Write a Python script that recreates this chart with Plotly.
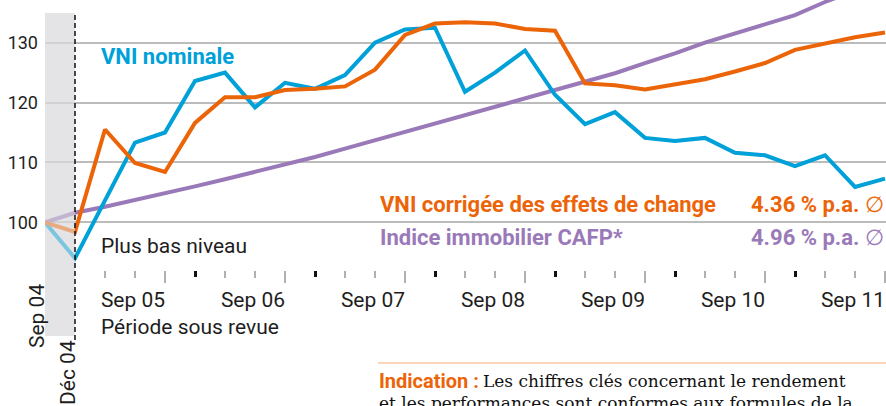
import plotly.graph_objects as go

# ---------------- data ----------------
quarters = ["Sep 04", "Déc 04",
            "Mar 05", "Jun 05", "Sep 05", "Déc 05",
            "Mar 06", "Jun 06", "Sep 06", "Déc 06",
            "Mar 07", "Jun 07", "Sep 07", "Déc 07",
            "Mar 08", "Jun 08", "Sep 08", "Déc 08",
            "Mar 09", "Jun 09", "Sep 09", "Déc 09",
            "Mar 10", "Jun 10", "Sep 10", "Déc 10",
            "Mar 11", "Jun 11", "Sep 11"]

vni_nominale = [100.0, 94.0, None, 113.3, 115.0, 123.6, 125.0, 119.2, 123.3, 122.3,
                124.6, 130.0, 132.2, 132.5, 121.8, 125.0, 128.7, 121.3, 116.4, 118.4,
                114.1, 113.6, 114.1, 111.6, 111.2, 109.4, 111.2, 105.9, 107.3]

vni_corrigee = [100.0, 98.4, 115.5, 109.9, 108.4, 116.6, 120.9, 120.9, 122.1, 122.3,
                122.7, 125.5, 131.3, 133.2, 133.4, 133.2, 132.3, 132.0, 123.2, 122.9,
                122.2, 123.1, 123.9, 125.2, 126.6, 128.8, 129.9, 130.9, 131.7]

indice_cafp = [100.0, 101.6, 102.6, 103.7, 104.8, 106.0, 107.2, 108.4, 109.7, 110.9,
               112.3, 113.7, 115.1, 116.5, 117.9, 119.3, 120.7, 122.0, 123.4, 124.9,
               126.6, 128.2, 130.0, 131.5, 133.0, 134.6, 136.8, 138.8, 140.6]

y_ticks = [100, 110, 120, 130]

label_nominale = "VNI nominale"
label_corrigee = "VNI corrigée des effets de change"
label_cafp = "Indice immobilier CAFP*"
perf_corrigee = "4.36 % p.a."
perf_cafp = "4.96 % p.a."

# ---------------- styling ----------------
W, H = 886, 406
ML = 45
PW = W - ML
BLUE = "#00a0d8"
ORANGE = "#ec6408"
PURPLE = "#9a79b9"
GRID = "#bcbcbc"
TXT = "#1e1e1e"
FONT = "Roboto"

x = list(range(len(quarters)))
sep_idx = [i for i, q in enumerate(quarters) if q.startswith("Sep") and i > 0]
dec_idx = [i for i, q in enumerate(quarters) if q.startswith("Déc") and i > 1]
minor_idx = [i for i in x if i > 1 and i not in sep_idx and i not in dec_idx]


def px(p):
    return (p - ML) / PW


def py(p):
    return 1 - p / H


fig = go.Figure()
fig.add_trace(go.Scatter(x=x, y=indice_cafp, mode="lines",
                         line=dict(color=PURPLE, width=4), connectgaps=True))
fig.add_trace(go.Scatter(x=x, y=vni_nominale, mode="lines",
                         line=dict(color=BLUE, width=4), connectgaps=True))
fig.add_trace(go.Scatter(x=x, y=vni_corrigee, mode="lines",
                         line=dict(color=ORANGE, width=4), connectgaps=True))
fig.add_trace(go.Scatter(x=[], y=[], xaxis="x2", showlegend=False))

xr = [0, PW / 30]
axis_pos = py(270)

fig.update_layout(
    width=W, height=H,
    margin=dict(l=ML, r=0, t=0, b=0),
    paper_bgcolor="white", plot_bgcolor="white",
    showlegend=False,
    xaxis=dict(
        range=xr, anchor="free", position=axis_pos,
        showgrid=False, zeroline=False, showline=False,
        tickmode="array", tickvals=sep_idx,
        ticktext=[quarters[i] for i in sep_idx],
        ticks="outside", ticklen=12, tickwidth=1.5, tickcolor="#b0b0b0",
        ticklabelshift=-32, ticklabelstandoff=-1,
        tickfont=dict(family=FONT, size=21, color=TXT),
        minor=dict(tickmode="array", tickvals=minor_idx, ticks="outside",
                   ticklen=7, tickwidth=1.5, tickcolor="#b0b0b0", showgrid=False),
    ),
    xaxis2=dict(
        range=xr, overlaying="x", anchor="free", position=axis_pos,
        showgrid=False, zeroline=False, showline=False,
        tickmode="array", tickvals=dec_idx, ticks="outside",
        ticklen=6, tickwidth=3, tickcolor="#111111", showticklabels=False,
    ),
    yaxis=dict(
        range=[100 - (H - 222.3) / 5.987, 130 + 42.7 / 5.987],
        tickmode="array", tickvals=y_ticks,
        showgrid=True, gridcolor=GRID, gridwidth=1.5,
        zeroline=False, showline=False, ticks="",
        ticklabelstandoff=6,
        tickfont=dict(family=FONT, size=18, color=TXT),
    ),
)

# shaded band (pre-period) and its overlay
fig.add_shape(type="rect", xref="x", yref="paper", x0=0, x1=1,
              y0=py(336), y1=py(13), fillcolor="#e4e4e6",
              line=dict(width=0), layer="below")
fig.add_shape(type="rect", xref="x", yref="paper", x0=0, x1=1,
              y0=py(336), y1=py(13), fillcolor="rgba(228,228,230,0.55)",
              line=dict(width=0), layer="above")
fig.add_shape(type="line", xref="x", yref="paper", x0=1, x1=1,
              y0=py(340), y1=py(13), line=dict(color="#111111", width=1.5, dash="5px,3px"),
              layer="above")
# separator line above the note
fig.add_shape(type="line", xref="paper", yref="paper", x0=px(378), x1=1,
              y0=py(363), y1=py(363), line=dict(color="#f8c7a4", width=1.5))


def ann(text, xp, yp, color, size=22, xanchor="left", angle=0, family=FONT):
    fig.add_annotation(text=text, x=px(xp), y=py(yp), xref="paper", yref="paper",
                       showarrow=False, xanchor=xanchor, yanchor="middle",
                       textangle=angle,
                       font=dict(family=family, size=size, color=color))


ann("<b>" + label_nominale + "</b>", 99, 56, BLUE)
ann("<b>" + label_corrigee + "</b>", 378, 204, ORANGE)
ann("<b>" + perf_corrigee + "</b> ∅", 886, 204, ORANGE, xanchor="right")
ann("<b>" + label_cafp + "</b>", 378, 238, PURPLE)
ann("<b>" + perf_cafp + "</b> ∅", 886, 238, PURPLE, xanchor="right")
ann("Plus bas niveau", 99, 246, TXT, size=21)
ann("Période sous revue", 99, 327, TXT, size=21)
ann(quarters[0], 37, 316, TXT, size=21, xanchor="center", angle=-90)
ann(quarters[1], 68, 373, TXT, size=21, xanchor="center", angle=-90)
ann("<b>Indication :</b>", 377, 381, ORANGE, size=20)
ann("Les chiffres clés concernant le rendement", 481, 381, "#111111", size=17,
    family="DejaVu Serif")
ann("et les performances sont conformes aux formules de la", 377, 403, "#111111",
    size=17, family="DejaVu Serif")

fig.write_html("out.html", config={"displayModeBar": False},
               post_script="document.body.style.margin='0';document.body.style.overflow='hidden';")
